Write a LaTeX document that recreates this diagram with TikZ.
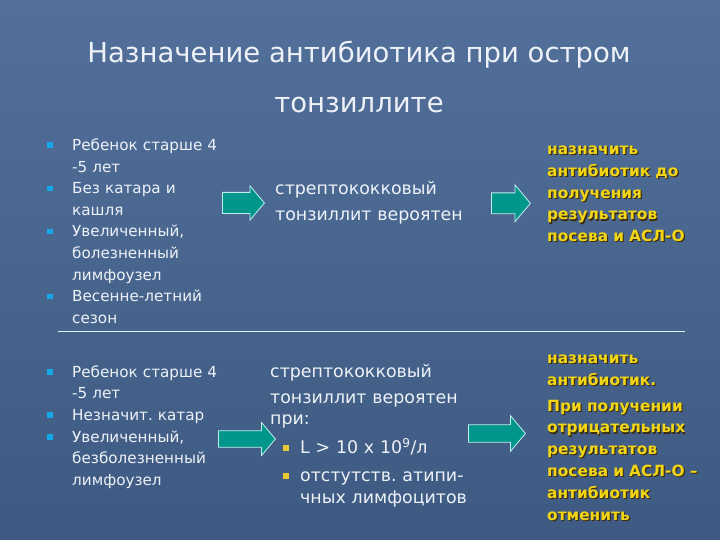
\documentclass[tikz,border=0pt]{standalone}
\usepackage{fontspec}
\setmainfont{DejaVu Sans}
\usepackage{xcolor}
\usepackage{tikz}
\usetikzlibrary{shapes.arrows, positioning}
\frenchspacing
\definecolor{slate}{RGB}{82,112,154}
\definecolor{slatedark}{RGB}{62,90,130}
\definecolor{paper}{RGB}{238,242,248}
\definecolor{gold}{RGB}{242,214,22}
\definecolor{goldshadow}{RGB}{60,44,10}
\definecolor{cyanbul}{RGB}{20,168,232}
\definecolor{goldbul}{RGB}{232,200,48}
\definecolor{arrowteal}{RGB}{0,150,140}
\definecolor{arrowrim}{RGB}{195,238,238}
\newcommand{\putbullet}[3]{\noindent\hangindent=#3\hangafter=1\hspace*{#2}\makebox[\dimexpr#3-#2\relax][l]{\textcolor{#1}{\rule[2.6pt]{5.5pt}{5.5pt}}}}
\newcommand{\cyanitem}{\putbullet{cyanbul}{0pt}{25pt}}
\newcommand{\golditem}{\putbullet{goldbul}{13pt}{30pt}}
\newcommand{\recfirst}{назначить\\ антибиотик до\\ получения\\ результатов\\ посева и АСЛ-О}
\newcommand{\recsecond}{назначить\\ антибиотик.\\[4pt] При получении\\ отрицательных\\ результатов\\ посева и АСЛ-О --\\ антибиотик\\ отменить}

\begin{document}
\begin{tikzpicture}[x=1pt, y=-1pt,
  txt/.style={anchor=base west, inner sep=0pt, align=left, text width=200pt, text=paper, font={\fontsize{15.2}{21.6}\selectfont}},
  mid/.style={txt, text width=230pt, font={\fontsize{17.4}{21.8}\selectfont}},
  rec/.style={anchor=base west, inner sep=0pt, align=left, text width=172pt, text=gold, font={\bfseries\fontsize{15.4}{21.8}\selectfont}},
  recshade/.style={rec, text=goldshadow},
  fatarrow/.style={single arrow, draw=arrowrim, line width=0.8pt, fill=arrowteal, anchor=tail, inner xsep=0pt, single arrow tip angle=100, minimum width=0pt},
  rule/.style={draw=arrowrim!70!white, line width=1pt}
]
\useasboundingbox (0,0) rectangle (720,540);
\shade[top color=slate, bottom color=slatedark] (0,0) rectangle (720,540);

\node[font={\fontsize{27.5}{33}\selectfont}, text=paper, align=center, anchor=base, inner sep=0pt] (title) at (359,113) {Назначение антибиотика при остром\\[17pt] тонзиллите};

\node[txt] (signs1) at (47,150.5) {\cyanitem Ребенок старше 4\newline -5 лет\par
  \cyanitem Без катара и\newline кашля\par
  \cyanitem Увеличенный,\newline болезненный\newline лимфоузел\par
  \cyanitem Весенне-летний\newline сезон\par};
\node[mid] (likely1) at (275,194.3) {стрептококковый\\[4.9pt] тонзиллит вероятен};
\node[recshade] (rec1s) at (548.2,155.7) {\recfirst};
\node[rec] (rec1) at (547,154.5) {\recfirst};

\node[fatarrow, minimum height=42pt, inner ysep=10.2pt, single arrow head extend=6.5pt] (go1) at (222,203) {};
\node[fatarrow, minimum height=39pt, inner ysep=10pt, single arrow head extend=8pt] (go2) at (491,203.3) {};

\draw[rule] (58,331) -- (685,331);

\node[txt] (signs2) at (47,377.3) {\cyanitem Ребенок старше 4\newline -5 лет\par
  \cyanitem Незначит. катар\par
  \cyanitem Увеличенный,\newline безболезненный\newline лимфоузел\par};
\node[mid] (likely2) at (270,377) {стрептококковый\\[4.2pt] тонзиллит вероятен\\ при:\par\vspace{6.8pt}
  \golditem L > 10 x 10\textsuperscript{9}/л\par\vspace{6.2pt}
  \golditem отстутств. атипи-\newline чных лимфоцитов\par};
\node[recshade] (rec2s) at (548.2,364.7) {\recsecond};
\node[rec] (rec2) at (547,363.5) {\recsecond};

\node[fatarrow, minimum height=57pt, inner ysep=7.9pt, single arrow head extend=8.3pt] (go3) at (218,439) {};
\node[fatarrow, minimum height=57pt, inner ysep=8.3pt, single arrow head extend=9pt] (go4) at (468,433.5) {};
\end{tikzpicture}
\end{document}
